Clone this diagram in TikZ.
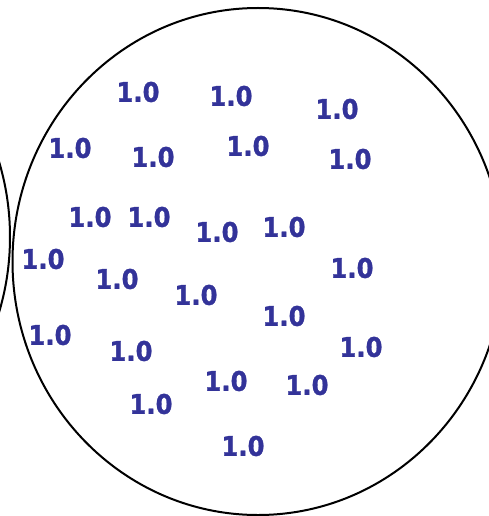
\documentclass[tikz,border=0pt]{standalone}
\usepackage{fontspec}
\newfontfamily\lblfont{DejaVu Sans Bold}[FakeBold=1.2]
\definecolor{lblblue}{RGB}{51,51,153}
\begin{document}
\begin{tikzpicture}[x=1pt,y=-1pt,
  val/.style={inner sep=0pt, text=lblblue, font=\lblfont\fontsize{27}{27}\selectfont},
  ring/.style={draw=black, line width=2pt}]
\useasboundingbox (0,0) rectangle (489,516);
\clip (0,0) rectangle (489,516);
\fill[white] (0,0) rectangle (489,516);
\draw[ring] (258,261.5) ellipse [x radius=245.5, y radius=253.5];
\draw[ring] (-253,237) circle [radius=263];
\newcommand{\val}{\scalebox{0.9}[1]{1.0}}
\node[val] (n1)  at (138,92)  {\val};
\node[val] (n2)  at (231,96)  {\val};
\node[val] (n3)  at (337,109) {\val};
\node[val] (n4)  at (70,148)  {\val};
\node[val] (n5)  at (153,157) {\val};
\node[val] (n6)  at (248,146) {\val};
\node[val] (n7)  at (350,159) {\val};
\node[val] (n8)  at (90,217)  {\val};
\node[val] (n9)  at (149,217) {\val};
\node[val] (n10) at (217,232) {\val};
\node[val] (n11) at (284,227) {\val};
\node[val] (n12) at (43,259)  {\val};
\node[val] (n13) at (117,279) {\val};
\node[val] (n14) at (352,268) {\val};
\node[val] (n15) at (196,295) {\val};
\node[val] (n16) at (284,316) {\val};
\node[val] (n17) at (50,335)  {\val};
\node[val] (n18) at (131,351) {\val};
\node[val] (n19) at (361,347) {\val};
\node[val] (n20) at (226,381) {\val};
\node[val] (n21) at (307,385) {\val};
\node[val] (n22) at (151,404) {\val};
\node[val] (n23) at (243,446) {\val};
\end{tikzpicture}
\end{document}
